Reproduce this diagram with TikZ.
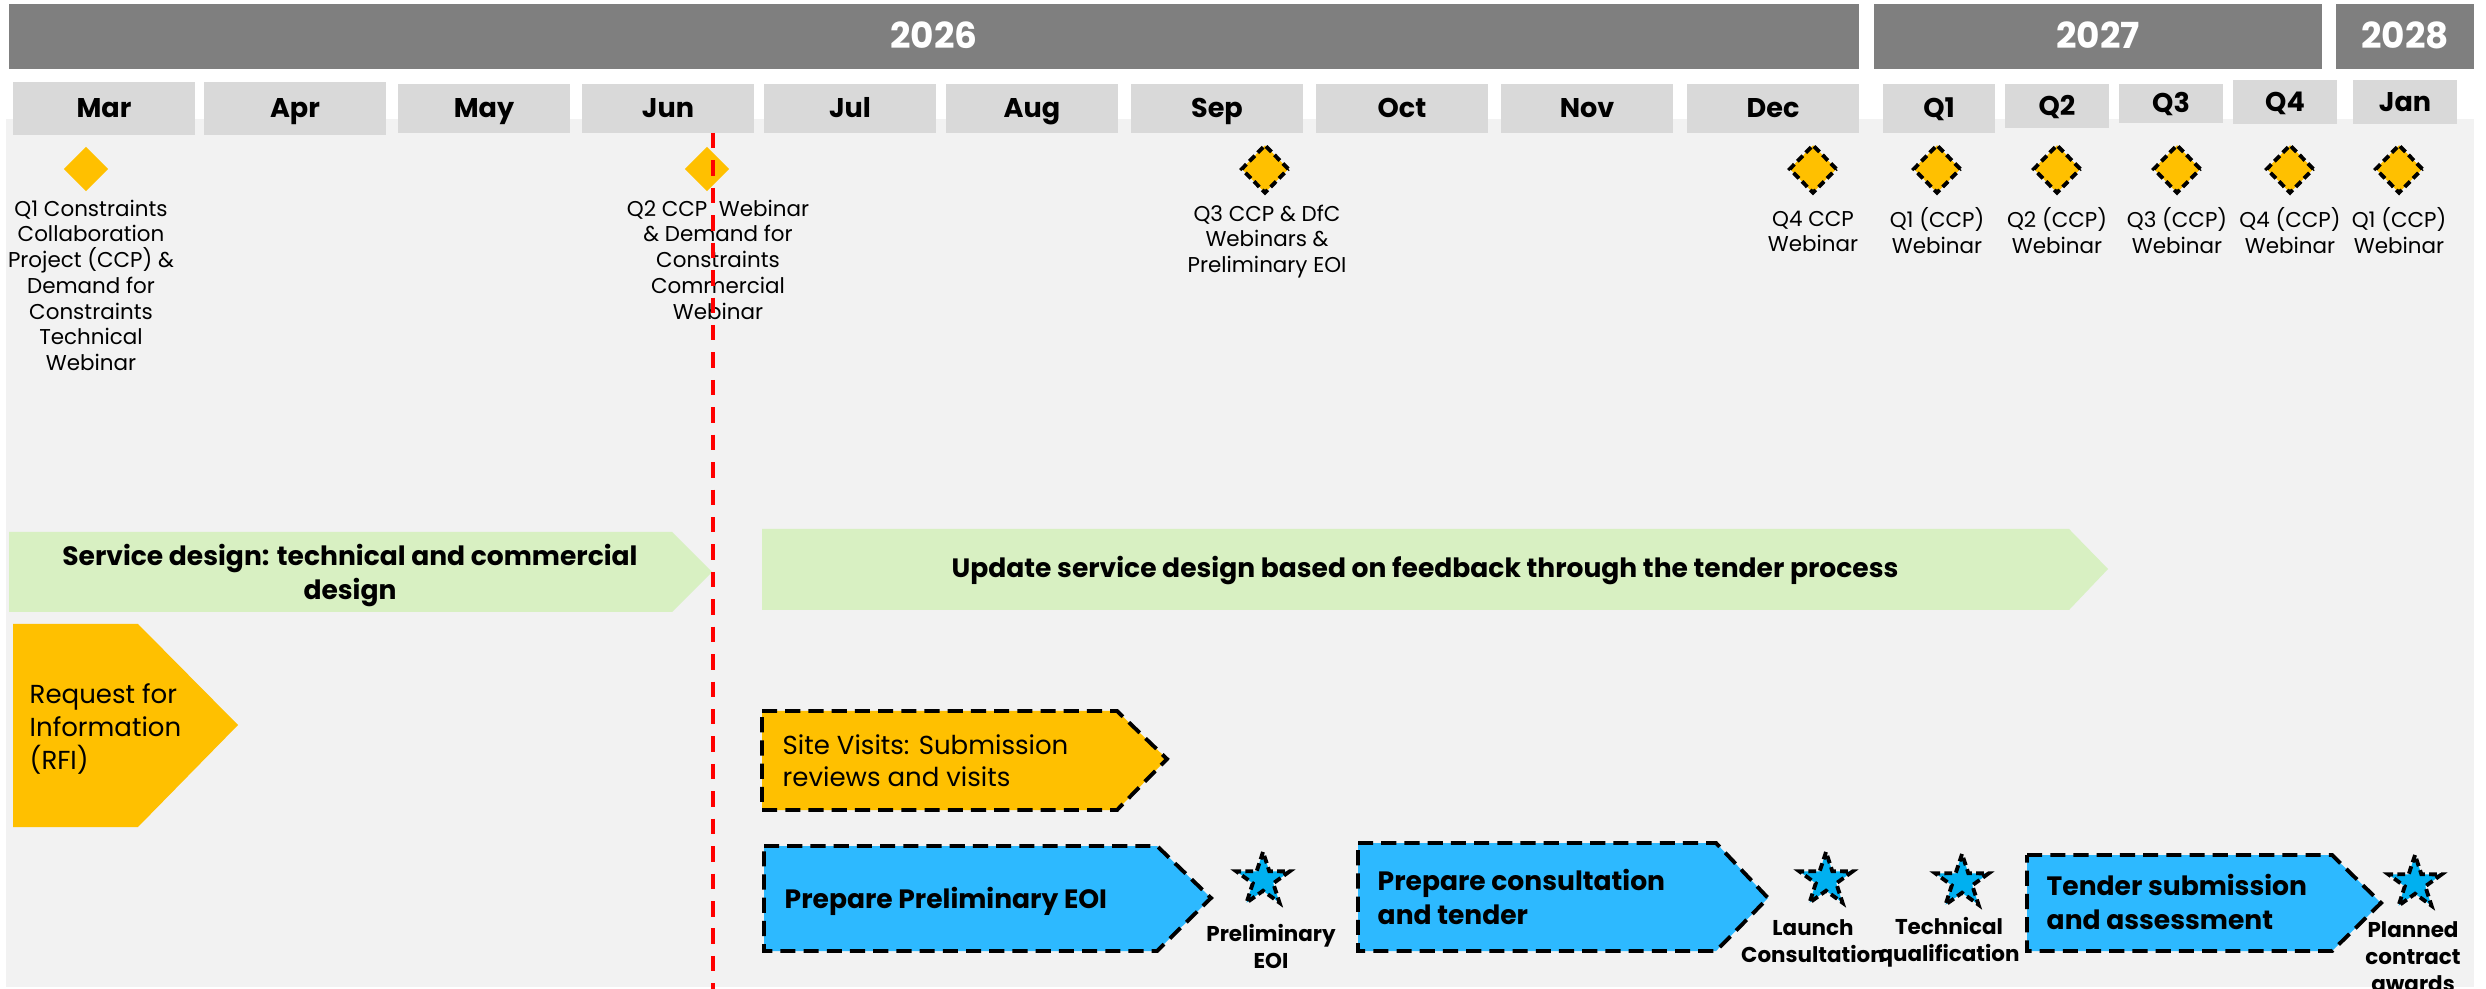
\documentclass[tikz,border=0pt]{standalone}
\usepackage{fontspec}
\setmainfont{Poppins}
\usetikzlibrary{shapes.geometric}
\definecolor{hdr}{HTML}{7F7F7F}
\definecolor{mbox}{HTML}{D9D9D9}
\definecolor{bgc}{HTML}{F2F2F2}
\definecolor{lgreen}{HTML}{D8F0C2}
\definecolor{orng}{HTML}{FFC000}
\definecolor{ablue}{HTML}{2DB9FF}
\definecolor{sblue}{HTML}{00B0F0}
\definecolor{redl}{HTML}{FF0000}
\newcommand{\tbox}[7]{%
  \pgfmathsetmacro{\tbW}{(#5-#3)*0.01}%
  \pgfmathsetmacro{\tbH}{(#6-#4)*0.01}%
  \node[#1, minimum width=\tbW cm, minimum height=\tbH cm] (#2) at ({(#3+#5)/2},{(#4+#6)/2}) {#7};%
}
\tikzset{
  yearbar/.style={fill=hdr, draw=none, inner sep=0pt, outer sep=0pt, text=white,
    font=\fontsize{10.2}{12}\selectfont\bfseries, text height=7.1pt, text depth=0pt},
  monthbox/.style={fill=mbox, draw=none, inner sep=0pt, outer sep=0pt, text=black,
    font=\fontsize{7.7}{9}\selectfont\bfseries, text height=5.4pt, text depth=0pt},
  mslabel/.style={anchor=north, align=center, inner sep=0pt,
    font=\fontsize{6.1}{7.33}\selectfont},
  solidms/.style={diamond, fill=orng, draw=none, inner sep=0pt, minimum width=0.45cm, minimum height=0.45cm},
  dashms/.style={diamond, fill=orng, draw=black, line width=1.1pt, dash pattern=on 2.2pt off 1.2pt,
    inner sep=0pt, minimum width=0.48cm, minimum height=0.49cm},
  starms/.style={star, star points=5, star point ratio=2.6, fill=sblue, draw=black, line width=1.1pt,
    dash pattern=on 2.2pt off 1.2pt, inner sep=0pt, minimum size=0.56cm},
  starlabel/.style={anchor=north, align=center, inner sep=0pt,
    font=\fontsize{6.1}{7.7}\selectfont\bfseries},
  boldtext/.style={inner sep=0pt, font=\fontsize{7.55}{9.5}\selectfont\bfseries},
  plaintext/.style={inner sep=0pt, font=\fontsize{7.4}{9.3}\selectfont},
  dashedge/.style={draw=black, line width=1.1pt, dash pattern=on 4.3pt off 2.3pt},
  todayline/.style={draw=redl, line width=1.1pt, dash pattern=on 4.4pt off 3.4pt},
}
\begin{document}
\begin{tikzpicture}[x=0.01cm, y=-0.01cm]
\useasboundingbox (0,0) rectangle (2486,989);
\fill[white] (0,0) rectangle (2486,989);
\fill[bgc] (6,119) rectangle (2474,987);

% year bars
\tbox{yearbar}{y2026}{9}{4}{1859}{69}{2026}
\tbox{yearbar}{y2027}{1874}{4}{2322}{69}{2027}
\tbox{yearbar}{y2028}{2336}{4}{2474}{69}{2028}

% month boxes
\tbox{monthbox}{mMar}{13}{82}{195}{135}{Mar}
\tbox{monthbox}{mApr}{204}{82}{386}{135}{Apr}
\tbox{monthbox}{mMay}{398}{84}{570}{133}{May}
\tbox{monthbox}{mJun}{582}{84}{754}{133}{Jun}
\tbox{monthbox}{mJul}{764}{84}{936}{133}{Jul}
\tbox{monthbox}{mAug}{946}{84}{1118}{133}{Aug}
\tbox{monthbox}{mSep}{1131}{84}{1303}{133}{Sep}
\tbox{monthbox}{mOct}{1316}{84}{1488}{133}{Oct}
\tbox{monthbox}{mNov}{1501}{84}{1673}{133}{Nov}
\tbox{monthbox}{mDec}{1687}{84}{1859}{133}{Dec}
\tbox{monthbox}{mQa}{1883}{84}{1995}{133}{Q1}
\tbox{monthbox}{mQb}{2005}{84}{2109}{128}{Q2}
\tbox{monthbox}{mQc}{2119}{84}{2223}{123}{Q3}
\tbox{monthbox}{mQd}{2233}{80}{2337}{124}{Q4}
\tbox{monthbox}{mJan}{2353}{80}{2457}{124}{Jan}

% milestones (diamonds)
\node[solidms] (dMar) at (86,169) {};
\node[solidms] (dJun) at (707,169) {};
\node[dashms] (dSep) at (1265,169) {};
\node[dashms] (dDec) at (1813,169) {};
\node[dashms] (dQa) at (1937,169) {};
\node[dashms] (dQb) at (2057,169) {};
\node[dashms] (dQc) at (2177,169) {};
\node[dashms] (dQd) at (2290,169) {};
\node[dashms] (dJan) at (2399,169) {};

\node[mslabel] (lMar) at (91,199) {Q1 Constraints\\Collaboration\\Project (CCP) \&\\Demand for\\Constraints\\Technical\\Webinar};
\node[mslabel] (lJun) at (718,199) {Q2 CCP\ \ Webinar\\\& Demand for\\Constraints\\Commercial\\Webinar};
\node[mslabel] (lSep) at (1267,204) {Q3 CCP \& DfC\\Webinars \&\\Preliminary EOI};
\node[mslabel] (lDec) at (1813,210) {Q4 CCP\\Webinar};
\node[mslabel] (lQa) at (1937,207) {Q1 (CCP)\\Webinar};
\node[mslabel] (lQb) at (2057,207) {Q2 (CCP)\\Webinar};
\node[mslabel] (lQc) at (2177,207) {Q3 (CCP)\\Webinar};
\node[mslabel] (lQd) at (2290,207) {Q4 (CCP)\\Webinar};
\node[mslabel] (lJan) at (2399,207) {Q1 (CCP)\\Webinar};

% green service design arrows
\fill[lgreen] (9,532) -- (672,532) -- (712,572) -- (672,612) -- (9,612) -- cycle;
\node[boldtext, anchor=north, align=center] (tSD) at (350,544)
  {Service design: technical and commercial\\design};
\fill[lgreen] (762,529) -- (2069,529) -- (2108,569) -- (2069,610) -- (762,610) -- cycle;
\node[boldtext, anchor=base] (tUpd) at (1425,578)
  {Update service design based on feedback through the tender process};

% RFI
\fill[orng] (13,624) -- (138,624) -- (238,725) -- (138,827) -- (13,827) -- cycle;
\node[plaintext, anchor=north west, align=left, font=\fontsize{7.4}{9.4}\selectfont] (tRFI) at (29,683)
  {Request for\\Information\\(RFI)};

% Site visits
\path[fill=orng, dashedge] (762,711) -- (1117,711) -- (1167,759) -- (1117,810) -- (762,810) -- cycle;
\node[plaintext, anchor=north west, align=left, font=\fontsize{7.4}{9.1}\selectfont] (tSite) at (782,734)
  {Site Visits: Submission\\reviews and visits};

% blue process arrows
\path[fill=ablue, dashedge] (764,846) -- (1157,846) -- (1211,898) -- (1157,951) -- (764,951) -- cycle;
\node[boldtext, anchor=base west] (tPEOI) at (784,908)
  {Prepare Preliminary EOI};
\path[fill=ablue, dashedge] (1358,843) -- (1716,843) -- (1768,898) -- (1716,951) -- (1358,951) -- cycle;
\node[boldtext, anchor=north west, align=left] (tPCT) at (1377,869)
  {Prepare consultation\\and tender};
\path[fill=ablue, dashedge] (2027,855) -- (2332,855) -- (2381,903) -- (2332,951) -- (2027,951) -- cycle;
\node[boldtext, anchor=north west, align=left] (tTSA) at (2046,874)
  {Tender submission\\and assessment};

% stars
\node[starms] (sPE) at (1263,880) {};
\node[starms] (sLC) at (1826,880) {};
\node[starms] (sTQ) at (1962,882) {};
\node[starms] (sPC) at (2415,883) {};
\node[starlabel] (lPE) at (1271,924) {Preliminary\\EOI};
\node[starlabel] (lLC) at (1813,919) {Launch\\Consultation};
\node[starlabel] (lTQ) at (1949,917) {Technical\\qualification};
\node[starlabel] (lPC) at (2413,921) {Planned\\contract\\awards};

% today line
\coordinate (rTop) at (713,133);
\coordinate (rBot) at (713,989);
\draw[todayline] (rTop) -- (rBot);
\end{tikzpicture}
\end{document}
